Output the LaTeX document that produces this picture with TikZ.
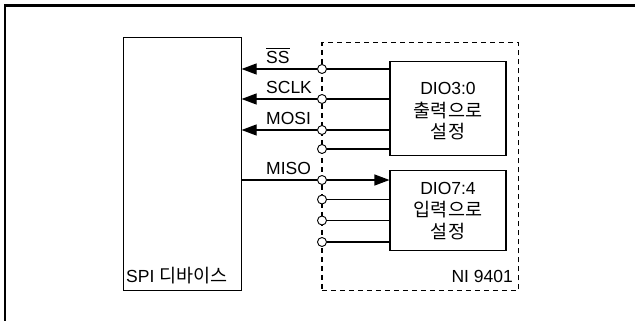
\documentclass[tikz,border=0pt]{standalone}
\usepackage{fontspec}
\setmainfont{Liberation Sans}
\newfontfamily\kr{Noto Sans CJK KR}
\usetikzlibrary{arrows.meta}
\newcommand{\ovl}[1]{\setbox0\hbox{#1}\rlap{\raisebox{\dimexpr\ht0+1.8pt\relax}{\rule{\wd0}{1pt}}}#1}
\begin{document}
\begin{tikzpicture}[x=1pt,y=-1pt,
  box/.style={draw, line width=1.1pt, inner sep=0pt},
  dbox/.style={draw, line width=1.1pt, inner sep=0pt, dash pattern=on 5pt off 4pt},
  pin/.style={circle, draw, fill=white, line width=0.9pt, minimum size=9pt, inner sep=0pt},
  wire/.style={line width=1.1pt},
  arr/.style={-{Triangle[length=15pt,width=11pt]}},
  txt/.style={font=\fontsize{17.5}{17.5}\selectfont, inner sep=0pt},
  ktxt/.style={font=\kr\fontsize{18.5}{18.5}\selectfont, inner sep=0pt}]
\useasboundingbox (0,0) rectangle (635,321);
% outer frame
\draw[line width=2.2pt] (5,321) -- (5,5.5) -- (636,5.5);
% boxes
\node[box, minimum width=117.5pt, minimum height=253pt] (spi) at (182.3,164.2) {};
\node[dbox, minimum width=196.5pt, minimum height=248pt] (ni) at (420.2,166.8) {};
\node[box, minimum width=116pt, minimum height=94pt] (out) at (448,108.8) {};
\node[box, minimum width=116pt, minimum height=80pt] (in) at (448,210.8) {};
% pins
\foreach \n/\y in {1/69,2/99,3/130,4/149,5/180,6/199.5,7/220.5,8/242}
  \node[pin] (c\n) at (322,\y) {};
% wires to output box
\foreach \n in {1,2,3,4}
  \draw[wire] (c\n.east) -- (c\n -| out.west);
\foreach \n in {1,2,3}
  \draw[wire, arr] (c\n.west) -- (c\n -| spi.east);
% MISO
\draw[wire] (c5 -| spi.east) -- (c5.west);
\draw[wire, arr] (c5.east) -- (c5 -| in.west);
\foreach \n in {6,7,8}
  \draw[wire] (c\n.east) -- (c\n -| in.west);
% signal labels
\node[txt, anchor=base west] (lss) at (266,63.5) {\ovl{SS}};
\node[txt, anchor=base west] (lsclk) at (266,94) {SCLK};
\node[txt, anchor=base west] (lmosi) at (266,124.5) {MOSI};
\node[txt, anchor=base west] (lmiso) at (266,174.5) {MISO};
% box texts
\node[txt, anchor=base] (o1) at (448,95) {DIO3:0};
\node[ktxt, anchor=base] (o2) at (448,117.5) {출력으로};
\node[ktxt, anchor=base] (o3) at (448,139) {설정};
\node[txt, anchor=base] (i1) at (448,194) {DIO7:4};
\node[ktxt, anchor=base] (i2) at (448,216.5) {입력으로};
\node[ktxt, anchor=base] (i3) at (448,238) {설정};
\node[txt, anchor=base west] (lspi) at (126,282) {SPI {\kr\fontsize{18.5}{18.5}\selectfont 디바이스}};
\node[txt, anchor=base east] (lni) at (513,282) {NI 9401};
\end{tikzpicture}
\end{document}
